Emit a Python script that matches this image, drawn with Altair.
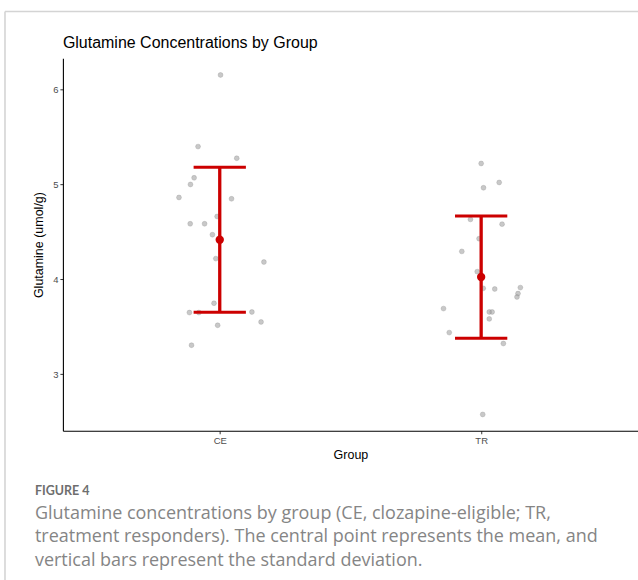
import altair as alt
import pandas as pd

# ---- data ----
groups = ["CE", "TR"]
group_pos = [1, 2]

ce_values = [6.151, 5.397, 5.274, 5.068, 4.998, 4.861, 4.847, 4.661, 4.584, 4.584,
             4.469, 4.217, 4.181, 3.747, 3.649, 3.649, 3.655, 3.550, 3.515, 3.305]
ce_jitter = [0.003, -0.083, 0.065, -0.098, -0.112, -0.156, 0.045, -0.010, -0.113, -0.058,
             -0.028, -0.015, 0.169, -0.022, -0.116, -0.080, 0.123, 0.158, -0.008, -0.108]

tr_values = [5.219, 5.019, 4.963, 4.630, 4.580, 4.427, 4.293, 4.080, 3.904, 3.897,
             3.912, 3.849, 3.813, 3.691, 3.655, 3.655, 3.582, 3.438, 3.323, 2.576]
tr_jitter = [0.000, 0.069, 0.009, -0.041, 0.080, -0.008, -0.074, -0.015, 0.008, 0.052,
             0.150, 0.141, 0.137, -0.144, 0.031, 0.042, 0.031, -0.122, 0.085, 0.006]

group_means = [4.416, 4.023]
group_sds = [0.763, 0.644]

y_ticks = [3, 4, 5, 6]

title_text = "Glutamine Concentrations by Group"
x_title = "Group"
y_title = "Glutamine (umol/g)"
caption_head = "FIGURE 4"
caption_lines = [
    "Glutamine concentrations by group (CE, clozapine-eligible; TR,",
    "treatment responders). The central point represents the mean, and",
    "vertical bars represent the standard deviation.",
]

# ---- tables ----
points = pd.DataFrame({
    "group": ["CE"] * len(ce_values) + ["TR"] * len(tr_values),
    "pos": [1] * len(ce_values) + [2] * len(tr_values),
    "jitter": ce_jitter + tr_jitter,
    "value": ce_values + tr_values,
})
summary = pd.DataFrame({"group": groups, "pos": group_pos,
                        "mean": group_means, "sd": group_sds})

RED = "#cc0000"
FONT = "Liberation Sans"

xscale = alt.Scale(domain=[0.4, 2.6], nice=False, zero=False)
yscale = alt.Scale(domain=[2.404, 6.326], nice=False, zero=False)

xaxis = alt.Axis(values=[1, 2], labelExpr="datum.value == 1 ? 'CE' : 'TR'",
                 title=x_title, grid=False)
yaxis = alt.Axis(values=y_ticks, format="d", title=y_title, grid=False)

pts = alt.Chart(points).transform_calculate(
    xj="datum.pos + datum.jitter"
).mark_point(filled=True, size=24, fill="#9a9a9a", fillOpacity=0.55,
             stroke="#8a8a8a", strokeOpacity=0.5, strokeWidth=0.6).encode(
    x=alt.X("xj:Q", scale=xscale, axis=xaxis),
    y=alt.Y("value:Q", scale=yscale, axis=yaxis),
)

base = alt.Chart(summary).transform_calculate(
    lo="datum.mean - datum.sd",
    hi="datum.mean + datum.sd",
    xl="datum.pos - 0.1",
    xr="datum.pos + 0.1",
)

vbar = base.mark_rule(color=RED, strokeWidth=3.3).encode(
    x=alt.X("pos:Q", scale=xscale),
    y=alt.Y("lo:Q", scale=yscale),
    y2="hi:Q",
)
cap_hi = base.mark_rule(color=RED, strokeWidth=3.0).encode(
    x=alt.X("xl:Q", scale=xscale), x2="xr:Q",
    y=alt.Y("hi:Q", scale=yscale),
)
cap_lo = base.mark_rule(color=RED, strokeWidth=3.0).encode(
    x=alt.X("xl:Q", scale=xscale), x2="xr:Q",
    y=alt.Y("lo:Q", scale=yscale),
)
mean_pt = base.mark_circle(size=70, color=RED, opacity=1).encode(
    x=alt.X("pos:Q", scale=xscale),
    y=alt.Y("mean:Q", scale=yscale),
)

# ---- title, card border and caption ----
BORDER = "#d4d4d4"
one = pd.DataFrame({"k": [0]})
border_top = alt.Chart(one).mark_rule(
    color=BORDER, strokeWidth=1.6, clip=False).encode(
    x=alt.value(-58), x2=alt.value(580), y=alt.value(-47))
border_left = alt.Chart(one).mark_rule(
    color=BORDER, strokeWidth=1.6, clip=False).encode(
    x=alt.value(-58), y=alt.value(-47), y2=alt.value(530))

title_mark = alt.Chart(pd.DataFrame({"t": [title_text]})).mark_text(
    align="left", baseline="middle", font=FONT, fontSize=16,
    color="#000000").encode(x=alt.value(0), y=alt.value(-15), text="t:N")

cap_layers = []
head = alt.Chart(pd.DataFrame({"t": [caption_head]})).mark_text(
    align="left", baseline="middle", font="Lato", fontSize=12.5,
    fontWeight="bold", color="#6e6e6e").encode(
    x=alt.value(-28), y=alt.value(433), text="t:N")
cap_layers.append(head)
for i, line in enumerate(caption_lines):
    cap_layers.append(
        alt.Chart(pd.DataFrame({"t": [line]})).mark_text(
            align="left", baseline="middle", font="Open Sans", fontSize=18,
            color="#858585").encode(
            x=alt.value(-28), y=alt.value(456 + 23.5 * i), text="t:N")
    )

chart = alt.layer(
    border_top, border_left, title_mark, pts, vbar, cap_hi, cap_lo, mean_pt,
    *cap_layers
).properties(
    width=576, height=373,
    background="#ffffff",
    autosize=alt.AutoSizeParams(type="none"),
    padding={"left": 63, "top": 58, "right": 0, "bottom": 149},
).configure_view(strokeWidth=0).configure_axis(
    domainColor="#000000", domainWidth=1.1, tickColor="#333333", tickSize=3,
    tickWidth=1, labelColor="#4d4d4d", labelFont=FONT, labelFontSize=9.5,
    labelPadding=2, titleFont=FONT, titleFontSize=12.5, titleFontWeight="normal",
    titleColor="#000000",
).configure_axisX(titlePadding=3).configure_axisY(titlePadding=7)

chart.save("out.html", embed_options={"renderer": "svg", "actions": False})
